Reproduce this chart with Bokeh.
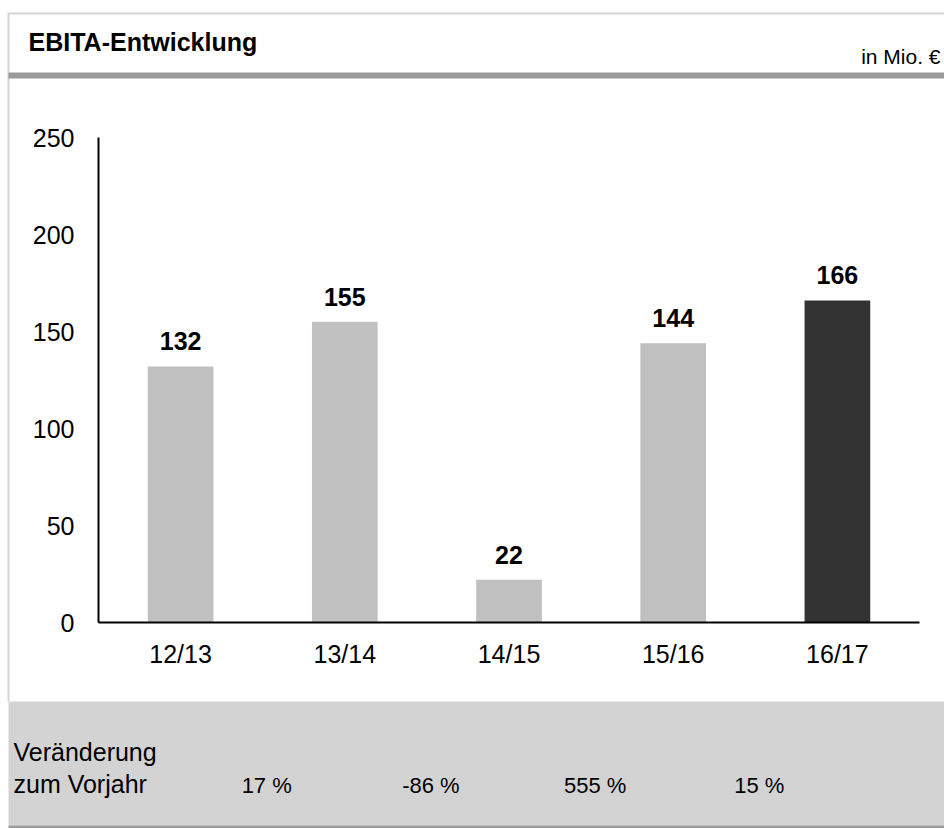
from bokeh.plotting import figure
from bokeh.models import Range1d, FixedTicker, LinearAxis
from bokeh.core.properties import value
from bokeh.embed import file_html
from bokeh.resources import INLINE

# ---------------- data ----------------
categories = ["12/13", "13/14", "14/15", "15/16", "16/17"]
ebita = [132, 155, 22, 144, 166]
change_pct = [17, -86, 555, 15]
y_ticks = [0, 50, 100, 150, 200, 250]
y_max = 250
title_text = "EBITA-Entwicklung"
unit_text = "in Mio. €"
change_label = ["Veränderung", "zum Vorjahr"]

# ---------------- style / layout (canvas pixels) ----------------
FONT = "Liberation Sans"
W, H = 944, 828
PLOT_L, PLOT_R, PLOT_T, PLOT_B = 98, 919, 137, 622   # chart area on the canvas
LIGHT, DARK = "#c0c0c0", "#333333"
RULE = "#d6d6d6"
BAND = "#9a9a9a"
FOOT_BG = "#d3d3d3"

n = len(categories)
ux = (PLOT_R - PLOT_L) / n          # px per category
uy = (PLOT_B - PLOT_T) / y_max      # px per value unit
x_start, x_end = -PLOT_L / ux, n + (W - PLOT_R) / ux
y_start, y_end = -(H - PLOT_B) / uy, y_max + PLOT_T / uy


def dx(px):
    return x_start + px / ux


def dy(py):
    return y_end - py / uy


p = figure(width=W, height=H, x_range=Range1d(x_start, x_end), y_range=Range1d(y_start, y_end),
           x_axis_type=None, y_axis_type=None, toolbar_location=None,
           output_backend="svg", min_border=0, outline_line_color=None)
p.background_fill_color = "white"
p.border_fill_color = "white"


def box(x0, x1, y0, y1, color):
    p.quad(left=[dx(x0)], right=[dx(x1)], top=[dy(y0)], bottom=[dy(y1)],
           fill_color=color, line_color=None)


def label(px, py, txt, size, align="left", bold=False):
    p.text(x=[dx(px)], y=[dy(py)], text=[txt], text_font=value(FONT),
           text_font_size=value(f"{size}px"), text_font_style="bold" if bold else "normal",
           text_align=align, text_baseline="alphabetic", text_color="black")


# frame decorations
box(8, W, 12, 14, RULE)
box(7, 9, 12, 701, RULE)
box(8, W, 72, 78, BAND)
box(8, W, 701, 825, FOOT_BG)
box(8, W, 825, 828, BAND)

# header texts
label(28, 41, title_text, 25, bold=True)
label(W - 4, 56, unit_text, 21, align="right")

# bars and value labels
xpos = [i + 0.5 for i in range(n)]
colors = [LIGHT] * (n - 1) + [DARK]
p.vbar(x=xpos, top=ebita, width=0.4, fill_color=colors, line_color=None)
p.text(x=xpos, y=ebita, text=[str(v) for v in ebita],
       text_font=value(FONT), text_font_size=value("25px"), text_font_style="bold",
       text_align="center", text_baseline="alphabetic", y_offset=-25,
       text_color="black")

# axes (drawn at data positions inside the canvas)
yax = LinearAxis(fixed_location=0, bounds=(0, y_max), ticker=FixedTicker(ticks=y_ticks))
xax = LinearAxis(fixed_location=0, bounds=(0, n), ticker=FixedTicker(ticks=xpos),
                 major_label_overrides={x: c for x, c in zip(xpos, categories)})
for ax in (xax, yax):
    ax.major_tick_out = 0
    ax.major_tick_in = 0
    ax.minor_tick_out = 0
    ax.minor_tick_in = 0
    ax.axis_line_color = "black"
    ax.axis_line_width = 2
    ax.major_label_text_font = FONT
    ax.major_label_text_font_size = "25px"
    ax.major_label_text_color = "black"
yax.major_label_standoff = 24
xax.major_label_standoff = 17
p.add_layout(yax, "left")
p.add_layout(xax, "below")

# footer texts
label(13, 751, change_label[0], 25)
label(13, 783, change_label[1], 25)
p.text(x=list(range(1, n)), y=[dy(785)] * len(change_pct),
       text=[f"{v} %" for v in change_pct], x_offset=4,
       text_font=value(FONT), text_font_size=value("22px"),
       text_align="center", text_baseline="alphabetic", text_color="black")

open("out.html", "w").write(file_html(p, INLINE))
